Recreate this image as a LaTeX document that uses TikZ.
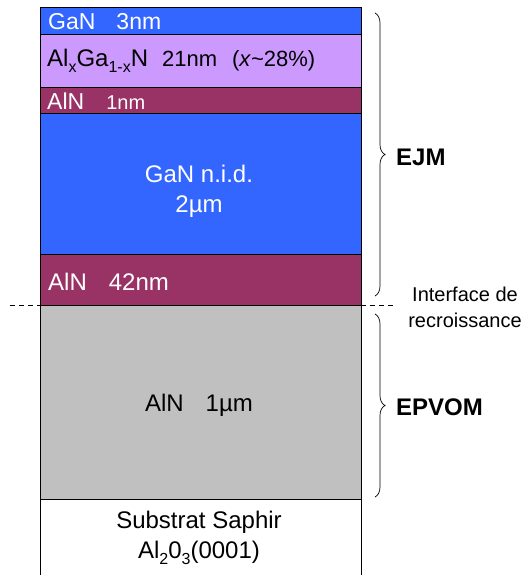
\documentclass[tikz,border=0pt]{standalone}
\usepackage{fontspec}
\setmainfont{Liberation Sans}
\usetikzlibrary{decorations.pathreplacing}
\definecolor{ganblue}{HTML}{3366FF}
\definecolor{algan}{HTML}{CC99FF}
\definecolor{alnred}{HTML}{993366}
\definecolor{alngray}{HTML}{C0C0C0}
\newcommand\fs[1]{\fontsize{#1}{#1}\selectfont}
\newcommand\lowsub[1]{\raisebox{-6pt}{\fs{16}#1}}
\begin{document}
\begin{tikzpicture}[x=1pt,y=-1pt,
  layer/.style={draw=black,line width=0.8pt},
  wlabel/.style={anchor=base west,inner sep=0pt,text=white},
  blabel/.style={anchor=base west,inner sep=0pt,text=black},
  clabel/.style={anchor=center,inner sep=0pt,align=center},
  bracestyle/.style={decorate,decoration={brace,amplitude=10pt},line width=0.7pt},
  bigtag/.style={anchor=west,inner sep=0pt,font=\fs{24}\bfseries}]
\useasboundingbox (0,0) rectangle (526,575);
% layers
\fill[white] (40,499) rectangle (361,575);
\draw[line width=0.8pt] (40,575) -- (40,499) -- (361,499) -- (361,575);
\draw[layer,fill=alngray] (40,305) rectangle (361,499);
\draw[layer,fill=alnred] (40,254) rectangle (361,305);
\draw[layer,fill=ganblue] (40,113) rectangle (361,254);
\draw[layer,fill=alnred] (40,87) rectangle (361,113);
\draw[layer,fill=algan] (40,34) rectangle (361,87);
\draw[layer,fill=ganblue] (40,7) rectangle (361,34);
% labels
\node[wlabel,font=\fs{23}] (gan3) at (48,30) {GaN\hspace{21pt}3nm};
\node[blabel,font=\fs{24}] (algan) at (47,67) {Al\lowsub{x}Ga\lowsub{1-x}N\hspace{14pt}{\fs{22}21nm\hspace{15pt}(\textit{x}\textasciitilde 28\%)}};
\node[wlabel,font=\fs{23}] (aln1) at (47,110) {AlN\hspace{22pt}{\fs{20}1nm}};
\node[clabel,font=\fs{24},text=white] (gannid) at (199,191) {GaN n.i.d.\\[6pt]2µm};
\node[wlabel,font=\fs{24}] (aln42) at (48,290) {AlN\hspace{22pt}42nm};
\node[clabel,font=\fs{24}] (aln1um) at (199,405) {AlN\hspace{22pt}1µm};
\node[clabel,font=\fs{24}] (sub) at (199,538) {Substrat Saphir\\[6pt]Al\lowsub{2}0\lowsub{3}(0001)};
% interface
\coordinate (dl) at (10,305);
\coordinate (dr) at (395,305);
\draw[dashed,dash pattern=on 5pt off 4pt,line width=0.8pt] (dl) -- (dr);
\node[clabel,font=\fs{20}] (iface) at (465,307) {Interface de\\[6pt]recroissance};
% braces
\coordinate (b1t) at (375,13);
\coordinate (b1b) at (375,296);
\draw[bracestyle] (b1t) -- (b1b);
\node[bigtag] (ejm) at (396,157) {EJM};
\coordinate (b2t) at (375,314);
\coordinate (b2b) at (375,497);
\draw[bracestyle] (b2t) -- (b2b);
\node[bigtag] (epvom) at (396,407) {EPVOM};
\end{tikzpicture}
\end{document}
